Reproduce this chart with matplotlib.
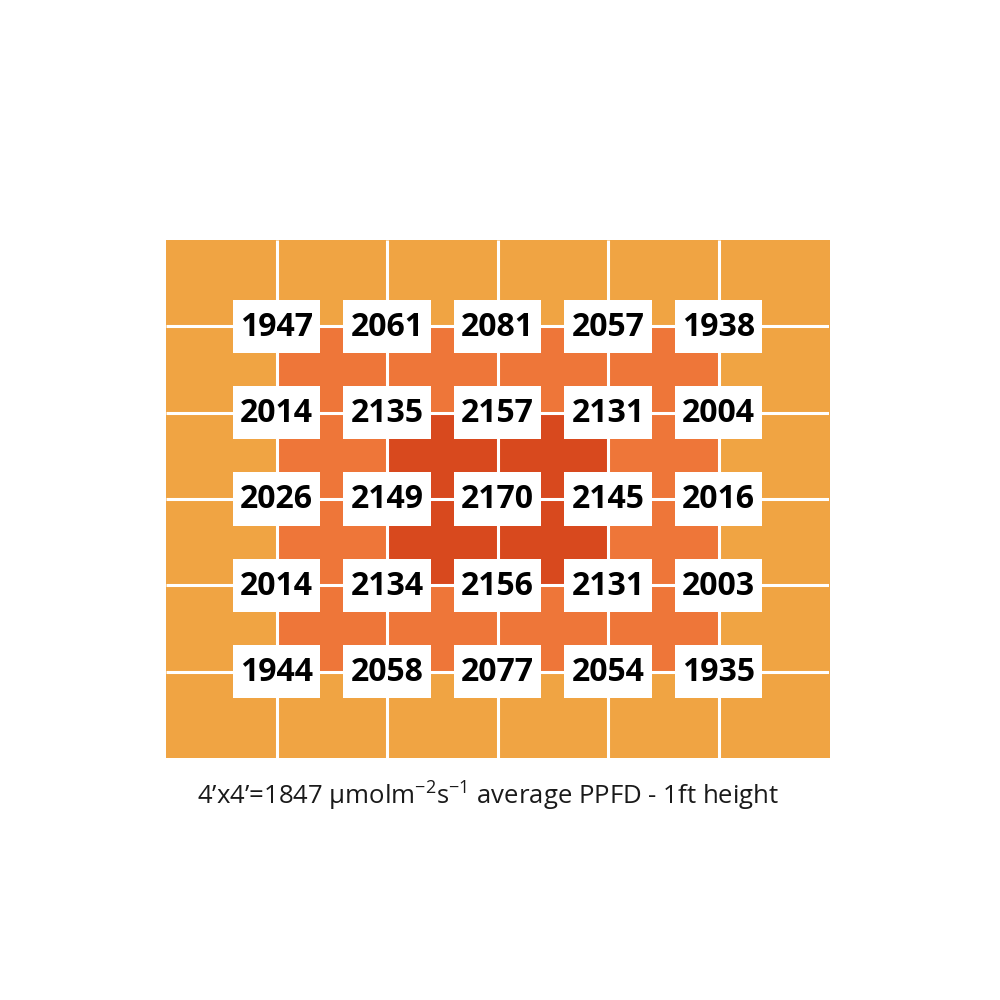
import numpy as np
import matplotlib
matplotlib.use("Agg")
import matplotlib.pyplot as plt
from matplotlib.colors import ListedColormap
from matplotlib.patches import Rectangle

# PPFD readings at the grid intersections (rows top to bottom)
ppfd = [
    [1947, 2061, 2081, 2057, 1938],
    [2014, 2135, 2157, 2131, 2004],
    [2026, 2149, 2170, 2145, 2016],
    [2014, 2134, 2156, 2131, 2003],
    [1944, 2058, 2077, 2054, 1935],
]

# intensity level of each background cell (0 = outer, 2 = centre)
levels = [
    [0, 0, 0, 0, 0, 0],
    [0, 1, 1, 1, 1, 0],
    [0, 1, 2, 2, 1, 0],
    [0, 1, 2, 2, 1, 0],
    [0, 1, 1, 1, 1, 0],
    [0, 0, 0, 0, 0, 0],
]
level_colors = ["#F0A443", "#EE7639", "#D8491E"]

caption = r"4’x4’=1847 µmolm$^{-2}$s$^{-1}$ average PPFD - 1ft height"

plt.rcParams['mathtext.fontset'] = 'custom'
plt.rcParams['mathtext.rm'] = 'Open Sans'
plt.rcParams['mathtext.it'] = 'Open Sans'

fig = plt.figure(figsize=(10, 10), dpi=100)
ax = fig.add_axes([0.166, 0.242, 0.663, 0.518])

nrows = len(levels)
ncols = len(levels[0])
ax.imshow(np.array(levels), cmap=ListedColormap(level_colors), vmin=-0.5, vmax=2.5,
          extent=(0, ncols, nrows, 0), aspect='auto', interpolation='nearest')

# white grid lines between cells
ax.vlines(np.arange(1, ncols), 0, nrows, colors='white', linewidth=2.2)
ax.hlines(np.arange(1, nrows), 0, ncols, colors='white', linewidth=2.2)

bw, bh = 0.79, 0.62
for r, row in enumerate(ppfd):
    for c, v in enumerate(row):
        x, y = c + 1, r + 1
        ax.add_patch(Rectangle((x - bw / 2, y - bh / 2), bw, bh,
                               facecolor='white', edgecolor='none', zorder=3))
        ax.text(x, y + 0.01, str(v), ha='center', va='center', fontsize=23,
                fontweight='bold', family='Open Sans', color='black', zorder=4)

ax.set_xlim(0, ncols)
ax.set_ylim(nrows, 0)
ax.axis('off')

fig.text(0.488, 0.204, caption, ha='center', va='center', fontsize=18.5,
         family='Open Sans', color='#1a1a1a')

fig.savefig("out.png", dpi=100)
